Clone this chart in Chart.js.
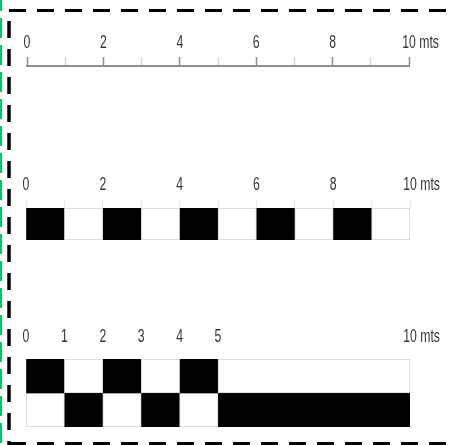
<!DOCTYPE html>
<html>
<head>
<meta charset="utf-8">
<script src="https://cdn.jsdelivr.net/npm/chart.js@4.4.1/dist/chart.umd.min.js"></script>
<style>
  html, body { margin: 0; padding: 0; background: #fff; }
  #page { position: relative; width: 454px; height: 445px; overflow: hidden; }
  .bar { position: absolute; left: 0; width: 454px; }
  #frame { position: absolute; left: 0; top: 0; }
</style>
</head>
<body>
<div id="page">
  <div class="bar" style="top:0;height:80px"><canvas id="ruler"></canvas></div>
  <div class="bar" style="top:150px;height:100px"><canvas id="single"></canvas></div>
  <div class="bar" style="top:300px;height:137px"><canvas id="double"></canvas></div>
  <svg id="frame" width="454" height="445">
    <line x1="1" y1="-9" x2="1" y2="445" stroke="#12c25e" stroke-width="2" stroke-dasharray="20 7"/>
    <line x1="9" y1="21" x2="9" y2="445" stroke="#000" stroke-width="3.5" stroke-dasharray="17 11"/>
    <line x1="9" y1="10.5" x2="454" y2="10.5" stroke="#000" stroke-width="3" stroke-dasharray="17 11"/>
    <line x1="9" y1="443.5" x2="454" y2="443.5" stroke="#000" stroke-width="3" stroke-dasharray="17 11"/>
  </svg>
</div>
<script>
// tick labels of each scale bar (metres)
const rulerTicks = [0, 2, 4, 6, 8, 10];
const singleTicks = [0, 2, 4, 6, 8, 10];
const doubleTicks = [0, 1, 2, 3, 4, 5, 10];
const unit = "mts";

// black / white blocks, from - to in metres
const singleBlack = [[0, 1], [2, 3], [4, 5], [6, 7], [8, 9]];
const singleWhite = [[1, 2], [3, 4], [5, 6], [7, 8], [9, 10]];
const doubleRows = ["top", "bottom"];
const topBlack = [[0, 1], [2, 3], [4, 5]];
const topWhite = [[1, 2], [3, 4], [5, 10]];
const bottomBlack = [[1, 2], [3, 4], [5, 10]];
const bottomWhite = [[0, 1], [2, 3], [4, 5]];

const FONT = "18px 'Liberation Sans', Arial, sans-serif";
const SQUEEZE = 0.68; // the labels are a narrow face
const TEXT = "#363636";

// the x axis sits on top, ticks point up
const xAxis = (labels, tickColor, showBorder) => ({
  type: "linear",
  position: "top",
  min: 0,
  max: 10,
  afterFit: (scale) => { scale.height = 40 },
  ticks: {
    stepSize: 1,
    autoSkip: false,
    maxRotation: 0,
    color: "rgba(0,0,0,0)",
    callback: (v) => labels.includes(v) ? String(v) : ""
  },
  grid: { drawOnChartArea: false, tickLength: 9, tickWidth: 1.5, tickColor: tickColor },
  border: { display: showBorder, color: "#8f8f8f", width: 2 }
});

// draws the tick labels in a condensed style, unit after the last one
const narrowLabels = {
  id: "narrowLabels",
  afterDraw(chart, args, opts) {
    const scale = chart.scales.x;
    const ctx = chart.ctx;
    const y = scale.bottom - opts.gap;
    ctx.save();
    ctx.font = FONT;
    ctx.fillStyle = TEXT;
    ctx.textBaseline = "alphabetic";
    ctx.textAlign = "left";
    scale.ticks.forEach((t) => {
      if (!t.label) return;
      const w = ctx.measureText(t.label).width;
      ctx.save();
      ctx.translate(scale.getPixelForValue(t.value), y);
      ctx.scale(SQUEEZE, 1);
      ctx.fillText(t.label, -w / 2, 0);
      if (t.value === 10) ctx.fillText(" " + unit, w / 2, 0);
      ctx.restore();
    });
    ctx.restore();
  }
};

const blocks = (ranges, row, black) => ({
  data: ranges.map((r) => ({ x: r, y: row })),
  backgroundColor: black ? "#000" : "#fff",
  borderColor: "#d2d2d2",
  borderWidth: black ? 0 : 1,
  borderSkipped: false,
  grouped: false,
  categoryPercentage: 1,
  barPercentage: 1
});

const common = (padding, gap) => ({
  responsive: true,
  maintainAspectRatio: false,
  animation: false,
  events: [],
  indexAxis: "y",
  layout: { padding: padding },
  plugins: {
    legend: { display: false },
    tooltip: { enabled: false },
    narrowLabels: { gap: gap }
  }
});

// plain ruler
new Chart(document.getElementById("ruler"), {
  type: "bar",
  data: { labels: ["ruler"], datasets: [] },
  options: {
    ...common({ left: 27, right: 45, top: 26, bottom: 0 }, 18),
    scales: {
      x: xAxis(rulerTicks, (c) => c.tick && c.tick.value % 2 === 0 ? "#8f8f8f" : "#d6d6d6", true),
      y: { display: false }
    }
  },
  plugins: [narrowLabels]
});

// single row of alternating blocks
new Chart(document.getElementById("single"), {
  type: "bar",
  data: {
    labels: ["row"],
    datasets: [blocks(singleWhite, "row", false), blocks(singleBlack, "row", true)]
  },
  options: {
    ...common({ left: 26, right: 44, top: 18, bottom: 10 }, 18),
    scales: {
      x: xAxis(singleTicks, "#ececec", false),
      y: { display: false }
    }
  },
  plugins: [narrowLabels]
});

// two rows, first 5 m split in metres
new Chart(document.getElementById("double"), {
  type: "bar",
  data: {
    labels: doubleRows,
    datasets: [
      blocks(topWhite, "top", false), blocks(topBlack, "top", true),
      blocks(bottomWhite, "bottom", false), blocks(bottomBlack, "bottom", true)
    ]
  },
  options: {
    ...common({ left: 26, right: 44, top: 19, bottom: 10 }, 17),
    scales: {
      x: xAxis(doubleTicks, "rgba(0,0,0,0)", false),
      y: { display: false }
    }
  },
  plugins: [narrowLabels]
});
</script>
</body>
</html>
